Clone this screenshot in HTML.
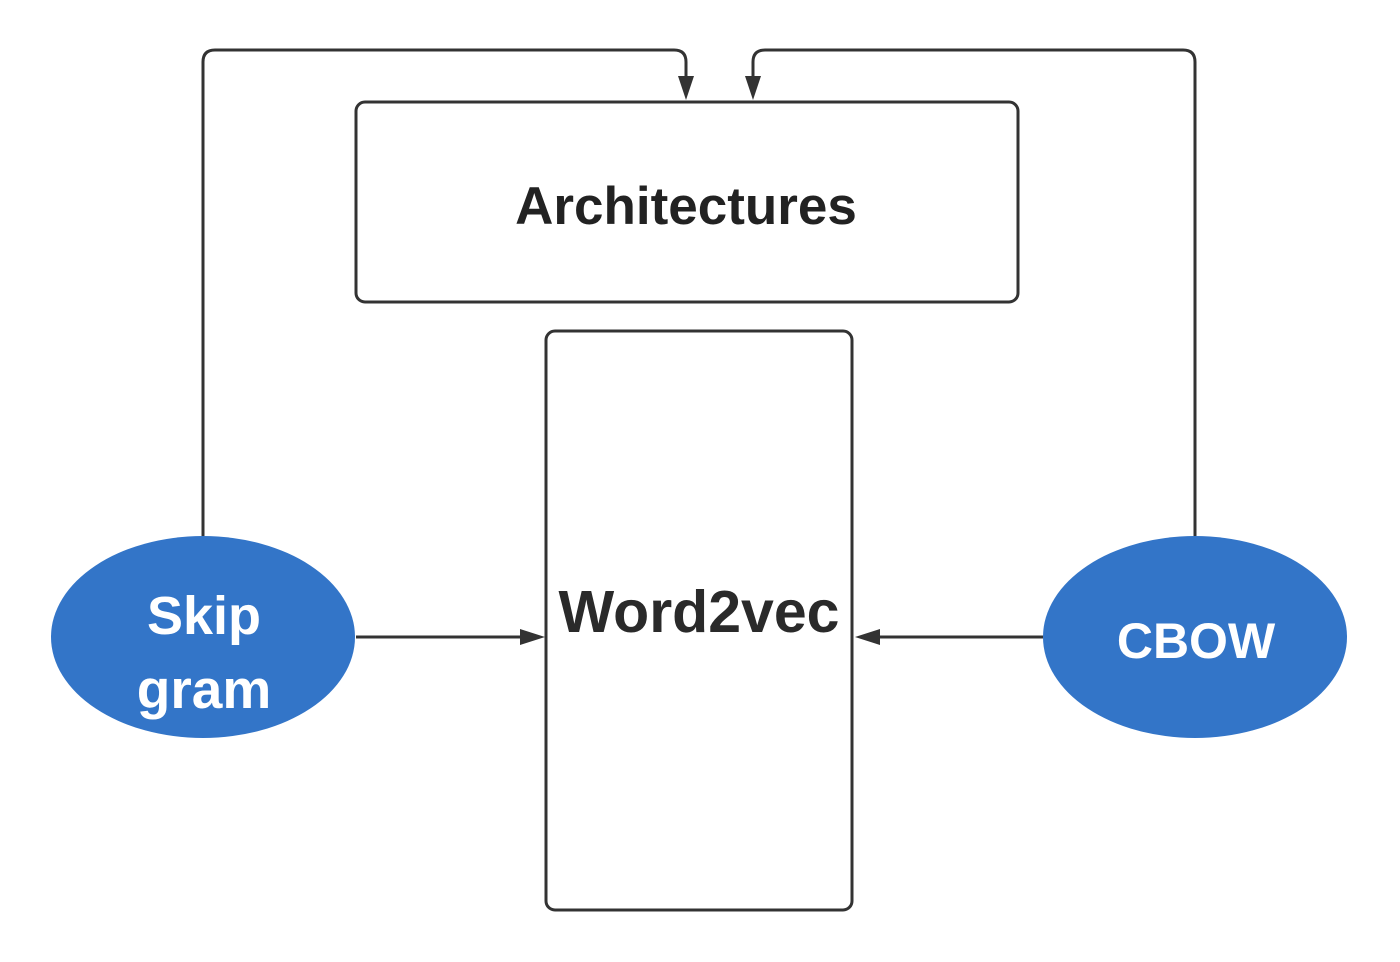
<!DOCTYPE html>
<html><head><style>
body{margin:0;background:#fff}
svg{display:block}
text{font-family:"Liberation Sans",sans-serif;font-weight:bold}
</style></head><body>
<svg width="1400" height="962" viewBox="0 0 1400 962">
<g fill="none" stroke="#333" stroke-width="3">
<rect x="356" y="102" width="662" height="200" rx="9"/>
<rect x="546" y="331" width="306" height="579" rx="9"/>
<path d="M203 536 V62 Q203 50 215 50 H674 Q686 50 686 62 V78"/>
<path d="M1195 536 V62 Q1195 50 1183 50 H765 Q753 50 753 62 V78"/>
<path d="M356 637 H522"/>
<path d="M1043 637 H878"/>
</g>
<g fill="#333">
<polygon points="678,76 694,76 686,100"/>
<polygon points="745,76 761,76 753,100"/>
<polygon points="520,629 520,645 545,637"/>
<polygon points="880,629 880,645 855,637"/>
</g>
<ellipse cx="203" cy="637" rx="152" ry="101" fill="#3375c8"/>
<ellipse cx="1195" cy="637" rx="152" ry="101" fill="#3375c8"/>
<text x="686" y="224" font-size="53" fill="#222" text-anchor="middle">Architectures</text>
<text x="699" y="632" font-size="59" fill="#2a2a2a" text-anchor="middle">Word2vec</text>
<text x="204" y="634" font-size="54" fill="#fff" text-anchor="middle">Skip</text>
<text x="204" y="708" font-size="55" fill="#fff" text-anchor="middle">gram</text>
<text x="1196" y="658" font-size="50" fill="#fff" text-anchor="middle">CBOW</text>
</svg>
</body></html>
